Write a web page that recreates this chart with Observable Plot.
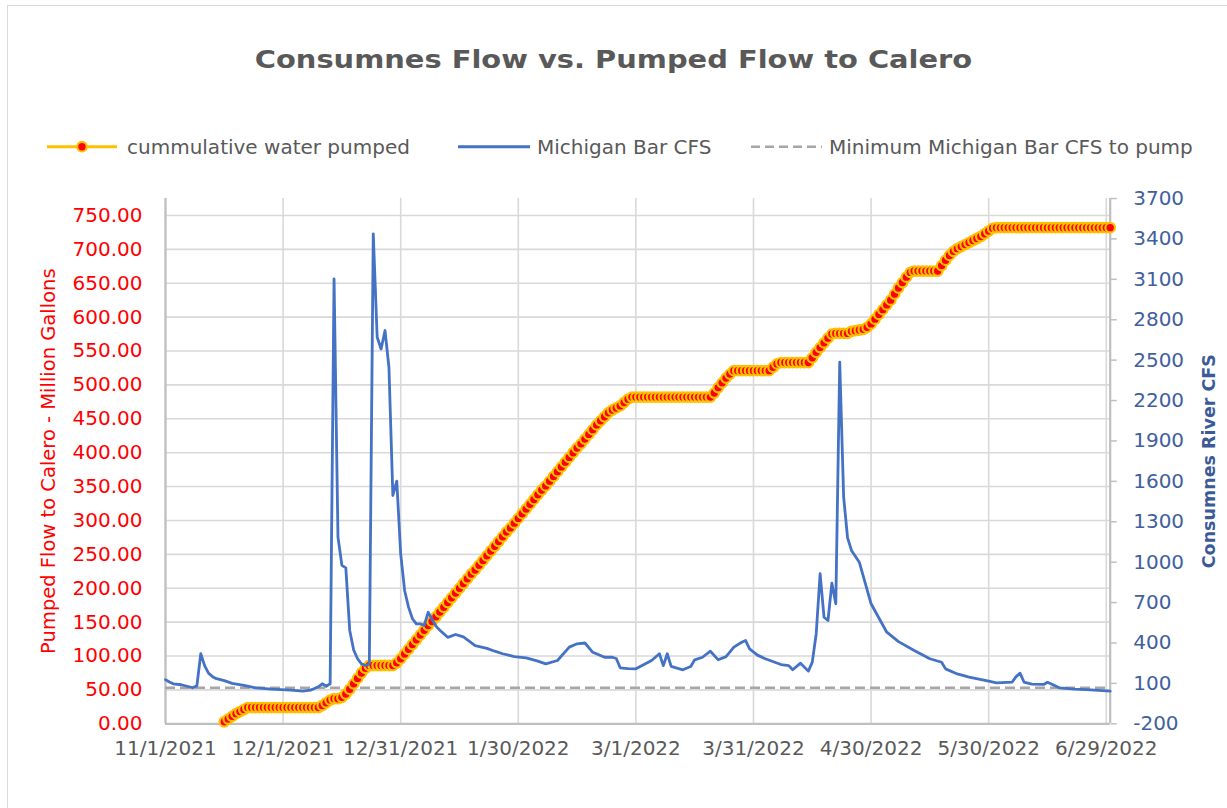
<!DOCTYPE html>
<html>
<head>
<meta charset="utf-8">
<script src="https://cdn.jsdelivr.net/npm/d3@7"></script>
<script src="https://cdn.jsdelivr.net/npm/@observablehq/plot@0.6"></script>
<style>
  html, body { margin: 0; padding: 0; background: #ffffff; }
  #wrap { position: relative; width: 1227px; height: 808px; overflow: hidden; font-family: "DejaVu Sans", sans-serif; }
  #frame { position: absolute; left: 7px; top: 5px; width: 1300px; height: 900px; border: 1.5px solid #d9d9d9; pointer-events: none; }
  #wrap svg { display: block; }
</style>
</head>
<body>
<div id="wrap"></div>
<script>
// ---------------- DATA ----------------
const chartTitle = "Consumnes Flow vs. Pumped Flow to Calero";
const legendLabels = ["cummulative water pumped", "Michigan Bar CFS", "Minimum Michigan Bar CFS to pump"];
const leftTitle = "Pumped Flow to Calero - Million Gallons";
const rightTitle = "Consumnes River CFS";

const xTickLabels = ["11/1/2021", "12/1/2021", "12/31/2021", "1/30/2022", "3/1/2022", "3/31/2022", "4/30/2022", "5/30/2022", "6/29/2022"];
const xStart = "11/1/2021";
const xEnd = "6/30/2022";

const leftTicks = [0, 50, 100, 150, 200, 250, 300, 350, 400, 450, 500, 550, 600, 650, 700, 750];
const leftMax = 775;
const rightTicks = [-200, 100, 400, 700, 1000, 1300, 1600, 1900, 2200, 2500, 2800, 3100, 3400, 3700];
const rightMin = -200;
const rightMax = 3700;

const minPumpFlowCFS = 67;

// Michigan Bar CFS
const flowDates = [
  "2021-11-01","2021-11-02","2021-11-03","2021-11-05","2021-11-07","2021-11-08","2021-11-09","2021-11-10",
  "2021-11-11","2021-11-12","2021-11-13","2021-11-14","2021-11-16","2021-11-18","2021-11-21","2021-11-24",
  "2021-11-28","2021-12-03","2021-12-06","2021-12-08","2021-12-09","2021-12-10","2021-12-11","2021-12-12",
  "2021-12-13","2021-12-14","2021-12-15","2021-12-16","2021-12-17","2021-12-18","2021-12-19","2021-12-20",
  "2021-12-21","2021-12-22","2021-12-23","2021-12-24","2021-12-25","2021-12-26","2021-12-27","2021-12-28",
  "2021-12-29","2021-12-30","2021-12-31","2022-01-01","2022-01-02","2022-01-03","2022-01-04","2022-01-05",
  "2022-01-06","2022-01-07","2022-01-08","2022-01-09","2022-01-10","2022-01-12","2022-01-14","2022-01-16",
  "2022-01-19","2022-01-22","2022-01-24","2022-01-26","2022-01-29","2022-02-01","2022-02-04","2022-02-06",
  "2022-02-09","2022-02-12","2022-02-14","2022-02-16","2022-02-18","2022-02-21","2022-02-23","2022-02-24",
  "2022-02-25","2022-02-27","2022-03-01","2022-03-05","2022-03-07","2022-03-08","2022-03-09","2022-03-10",
  "2022-03-13","2022-03-15","2022-03-16","2022-03-18","2022-03-20","2022-03-22","2022-03-24","2022-03-26",
  "2022-03-28","2022-03-29","2022-03-30","2022-04-01","2022-04-03","2022-04-07","2022-04-09","2022-04-10",
  "2022-04-12","2022-04-14","2022-04-15","2022-04-16","2022-04-17","2022-04-18","2022-04-19","2022-04-20",
  "2022-04-21","2022-04-22","2022-04-23","2022-04-24","2022-04-25","2022-04-27","2022-04-30","2022-05-04",
  "2022-05-07","2022-05-11","2022-05-15","2022-05-18","2022-05-19","2022-05-22","2022-05-25","2022-05-30",
  "2022-06-01","2022-06-05","2022-06-06","2022-06-07","2022-06-08","2022-06-10","2022-06-13","2022-06-14",
  "2022-06-15","2022-06-17","2022-06-21","2022-06-25","2022-06-30"
];
const flowCFS = [
  127, 110, 97, 90, 75, 67, 82, 320,
  230, 175, 150, 135, 120, 100, 85, 66,
  58, 50, 43, 50, 62, 75, 97, 79,
  97, 3103, 1186, 976, 958, 493, 348, 283,
  245, 233, 245, 3438, 2670, 2583, 2720, 2447,
  1495, 1602, 1062, 790, 666, 580, 542, 542,
  530, 628, 575, 525, 495, 442, 463, 445,
  381, 360, 339, 320, 299, 290, 265, 245,
  270, 369, 394, 400, 331, 294, 294, 285,
  216, 210, 208, 270, 320, 232, 320, 226,
  201, 226, 275, 294, 339, 275, 299, 369,
  405, 418, 356, 310, 283, 240, 232, 201,
  250, 191, 258, 469, 914, 591, 567, 844,
  691, 2485, 1483, 1180, 1087, 1000, 691, 480,
  410, 344, 283, 257, 208, 170, 146, 116,
  104, 110, 150, 176, 110, 95, 92, 108,
  95, 67, 58, 52, 42
];

// Cumulative water pumped, million gallons, one value per day from pumpStart
const pumpStart = "11/16/2021";
const pumpedMG = [
  // Nov 16 - Nov 30
  3, 7, 11, 15, 18, 21, 24, 24, 24, 24, 24, 24, 24, 24, 24,
  // Dec 1 - Dec 31
  24, 24, 24, 24, 24, 24, 24, 24, 24, 24, 27, 31, 35, 37, 37, 39,
  44, 51, 59, 67, 75, 82, 86, 86, 86, 86, 86, 86, 86, 90, 96,
  // Jan 1 - Jan 31
  103, 110, 117, 124, 131, 138, 145, 151, 158, 165, 172, 179, 186, 193, 200, 207,
  214, 221, 227, 234, 241, 248, 255, 262, 269, 276, 283, 289, 296, 303, 310,
  // Feb 1 - Feb 28
  317, 324, 331, 338, 345, 351, 358, 365, 372, 379, 386, 393, 400, 407,
  413, 420, 427, 434, 441, 447, 453, 459, 463, 466, 469, 474, 479, 482,
  // Mar 1 - Mar 31
  482, 482, 482, 482, 482, 482, 482, 482, 482, 482, 482, 482, 482, 482, 482, 482,
  482, 482, 482, 482, 488, 496, 503, 510, 516, 521, 521, 521, 521, 521, 521,
  // Apr 1 - Apr 30
  521, 521, 521, 521, 526, 531, 533, 533, 533, 533, 533, 533, 533, 533, 540,
  548, 555, 562, 569, 575, 576, 576, 576, 576, 579, 580, 581, 582, 585, 590,
  // May 1 - May 31
  597, 604, 611, 618, 625, 634, 643, 651, 659, 666, 668, 668, 668, 668, 668, 668,
  668, 676, 684, 691, 697, 701, 704, 707, 710, 713, 716, 719, 723, 727, 731,
  // Jun 1 - Jun 30
  732, 732, 732, 732, 732, 732, 732, 732, 732, 732, 732, 732, 732, 732, 732,
  732, 732, 732, 732, 732, 732, 732, 732, 732, 732, 732, 732, 732, 732, 732
];

// ---------------- BUILD ----------------
const parseMDY = d3.utcParse("%m/%d/%Y");
const parseISO = d3.utcParse("%Y-%m-%d");
const toLeft = r => (r - rightMin) / (rightMax - rightMin) * leftMax;
const fromLeft = l => l / leftMax * (rightMax - rightMin) + rightMin;

const xTicks = xTickLabels.map(parseMDY);
const xDomain = [parseMDY(xStart), parseMDY(xEnd)];
const flow = flowDates.map((d, i) => ({date: parseISO(d), cfs: flowCFS[i]}));
const pump = pumpedMG.map((v, i) => ({date: d3.utcDay.offset(parseMDY(pumpStart), i), mg: v}));

const wrap = d3.select("#wrap");

// Header: title + legend
const header = wrap.append("svg").attr("width", 1227).attr("height", 170)
  .style("font-family", '"DejaVu Sans", sans-serif');
header.append("text")
  .attr("transform", "translate(613.5,68.3) scale(1.156,1)")
  .attr("text-anchor", "middle")
  .attr("font-weight", "bold")
  .attr("font-size", 25)
  .attr("fill", "#595959")
  .text(chartTitle);

const legendY = 146.7;
const lg = header.append("g");
// item 1
lg.append("line").attr("x1", 47).attr("x2", 117).attr("y1", legendY).attr("y2", legendY)
  .attr("stroke", "#FFC000").attr("stroke-width", 3);
lg.append("circle").attr("cx", 82).attr("cy", legendY).attr("r", 4.8)
  .attr("fill", "#ff0000").attr("stroke", "#FFC000").attr("stroke-width", 2.2);
lg.append("text").attr("x", 127).attr("y", 153.5).attr("font-size", 20).attr("fill", "#595959").text(legendLabels[0]);
// item 2
lg.append("line").attr("x1", 458).attr("x2", 530).attr("y1", legendY).attr("y2", legendY)
  .attr("stroke", "#4472C4").attr("stroke-width", 3);
lg.append("text").attr("x", 537).attr("y", 153.5).attr("font-size", 20).attr("fill", "#595959").text(legendLabels[1]);
// item 3
lg.append("line").attr("x1", 751).attr("x2", 822).attr("y1", legendY).attr("y2", legendY)
  .attr("stroke", "#a6a6a6").attr("stroke-width", 2.5).attr("stroke-dasharray", "9,5");
lg.append("text").attr("x", 829).attr("y", 153.5).attr("font-size", 20).attr("fill", "#595959").text(legendLabels[2]);

// Chart
const grid = {stroke: "#d9d9d9", strokeOpacity: 1, strokeWidth: 1.6};
const chart = Plot.plot({
  width: 1227,
  height: 638,
  marginLeft: 165,
  marginRight: 117.3,
  marginTop: 28,
  marginBottom: 84.7,
  style: {fontFamily: '"DejaVu Sans", sans-serif', fontSize: "20px", background: "transparent", overflow: "visible"},
  x: {type: "utc", domain: xDomain},
  y: {domain: [0, leftMax]},
  marks: [
    Plot.gridY(leftTicks, grid),
    Plot.gridX(xTicks, grid),
    Plot.ruleX(xDomain, {stroke: "#bfbfbf", strokeWidth: 2.2}),
    Plot.ruleY([0], {stroke: "#bfbfbf", strokeWidth: 2.2}),
    Plot.axisY(leftTicks, {
      anchor: "left", tickSize: 0, tickPadding: 23,
      tickFormat: d => d.toFixed(2), fill: "#ff0000", fontSize: 20, label: null
    }),
    Plot.axisY(rightTicks.map(toLeft), {
      anchor: "right", tickSize: 6, tickPadding: 17, stroke: "#bfbfbf", strokeWidth: 1.5,
      tickFormat: d => String(Math.round(fromLeft(d))), fill: "#41609d", fontSize: 20, label: null
    }),
    Plot.axisX(xTicks, {
      anchor: "bottom", tickSize: 0, tickPadding: 17,
      tickFormat: d => `${d.getUTCMonth() + 1}/${d.getUTCDate()}/${d.getUTCFullYear()}`,
      fill: "#595959", fontSize: 20, label: null
    }),
    Plot.ruleY([toLeft(minPumpFlowCFS)], {stroke: "#a6a6a6", strokeWidth: 2.5, strokeDasharray: "10,5"}),
    Plot.line(pump, {x: "date", y: "mg", stroke: "#FFC000", strokeWidth: 3}),
    Plot.dot(pump, {x: "date", y: "mg", r: 4.8, fill: "#ff0000", stroke: "#FFC000", strokeWidth: 2.2}),
    Plot.line(flow, {x: "date", y: d => toLeft(d.cfs), stroke: "#4472C4", strokeWidth: 2.8}),
    Plot.text([leftTitle], {text: d => d, frameAnchor: "left", textAnchor: "middle", dx: -117, rotate: -90, fill: "#ff0000", fontSize: 19.5}),
    Plot.text([rightTitle], {text: d => d, frameAnchor: "right", textAnchor: "middle", dx: 99.3, rotate: -90, fill: "#3d5a98", fontSize: 17.5, fontWeight: "bold"})
  ]
});
wrap.node().appendChild(chart);
wrap.append("div").attr("id", "frame");
</script>
</body>
</html>
